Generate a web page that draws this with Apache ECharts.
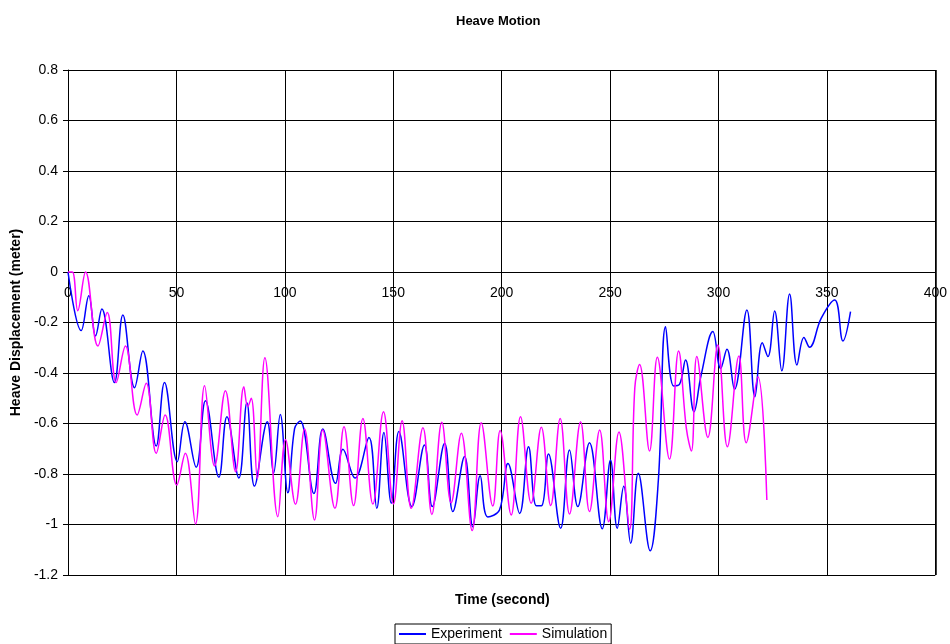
<!DOCTYPE html>
<html>
<head>
<meta charset="utf-8">
<script src="https://cdn.jsdelivr.net/npm/echarts@6/dist/echarts.min.js"></script>
<style>html,body{margin:0;padding:0;background:#fff}#c{width:950px;height:644px}</style>
</head>
<body>
<div id="c"></div>
<script>
var chartTitle = 'Heave Motion';
var xAxisName = 'Time (second)';
var yAxisName = 'Heave Displacement (meter)';
var seriesNames = ['Experiment', 'Simulation'];
var xTicks = [0, 50, 100, 150, 200, 250, 300, 350, 400];
var yTicks = [-1.2, -1, -0.8, -0.6, -0.4, -0.2, 0, 0.2, 0.4, 0.6, 0.8];

var experimentTime = [0, 6.1, 9.6, 12.7, 15.6, 21.4, 25.3, 30.7, 34.5, 40.7, 44.5, 50.4, 53.9, 59.1, 63.4, 69.6, 73.3, 78.8, 82.5, 86.0, 91.9, 94.8, 97.9, 101.4, 104.5, 107.1, 113.4, 117.5, 123.4, 126.8, 132.4, 138.8, 142.4, 145.7, 149.1, 152.6, 158.6, 164.4, 168.0, 173.7, 177.5, 182.9, 186.7, 190.1, 193.6, 199.0, 202.9, 208.3, 212.4, 216.0, 218.5, 221.6, 227.2, 231.3, 235.1, 240.5, 246.4, 250.2, 253.3, 256.3, 259.5, 263.0, 268.5, 272.3, 275.6, 279.3, 282.0, 284.8, 288.7, 292.0, 297.4, 301.0, 303.9, 307.4, 313.1, 316.8, 320.2, 322.8, 325.9, 329.2, 332.8, 336.2, 339.4, 342.0, 347.4, 353.6, 357.4, 360.9];
var experimentHeave = [0, -0.232, -0.094, -0.253, -0.147, -0.438, -0.170, -0.458, -0.313, -0.689, -0.438, -0.751, -0.593, -0.773, -0.510, -0.813, -0.573, -0.816, -0.518, -0.848, -0.593, -0.797, -0.564, -0.874, -0.62, -0.590, -0.877, -0.622, -0.837, -0.702, -0.816, -0.655, -0.936, -0.636, -0.916, -0.632, -0.929, -0.685, -0.929, -0.678, -0.949, -0.731, -1.009, -0.807, -0.970, -0.943, -0.758, -0.956, -0.692, -0.926, -0.925, -0.721, -1.015, -0.705, -0.929, -0.676, -1.017, -0.745, -1.015, -0.849, -1.074, -0.797, -1.104, -0.82, -0.217, -0.451, -0.445, -0.349, -0.553, -0.408, -0.236, -0.382, -0.306, -0.465, -0.150, -0.494, -0.280, -0.335, -0.154, -0.391, -0.087, -0.368, -0.259, -0.298, -0.183, -0.111, -0.273, -0.157];

var simulationTime = [0, 2.0, 4.5, 8.1, 13.8, 18.1, 22.2, 26.5, 31.9, 36.1, 40.7, 44.8, 50.2, 54.1, 58.8, 63.0, 67.6, 72.6, 77.3, 81.1, 82.9, 84.5, 87.3, 90.8, 96.8, 100.3, 104.9, 109.1, 113.7, 117.5, 123.1, 127.3, 131.7, 136.0, 140.6, 145.5, 150.1, 154.1, 158.3, 163.7, 167.8, 172.4, 176.7, 181.4, 186.4, 190.6, 195.9, 199.3, 204.4, 208.7, 213.6, 218.3, 222.6, 227.0, 231.3, 236.4, 240.5, 245.2, 249.4, 254.1, 259.0, 261.4, 263.6, 268.2, 271.8, 277.4, 281.6, 285.2, 287.5, 290.0, 295.1, 299.7, 304.1, 309.4, 312.8, 318.2, 322.3];
var simulationHeave = [0, 0, -0.153, 0, -0.293, -0.160, -0.438, -0.293, -0.566, -0.441, -0.718, -0.566, -0.844, -0.718, -0.998, -0.450, -0.768, -0.470, -0.791, -0.454, -0.533, -0.500, -0.817, -0.34, -0.969, -0.663, -0.920, -0.622, -0.982, -0.626, -0.936, -0.613, -0.925, -0.580, -0.919, -0.553, -0.919, -0.589, -0.936, -0.617, -0.960, -0.595, -0.914, -0.639, -1.024, -0.597, -0.927, -0.628, -0.962, -0.573, -0.916, -0.615, -0.925, -0.580, -0.958, -0.593, -0.949, -0.626, -0.989, -0.634, -1.019, -0.46, -0.366, -0.709, -0.338, -0.741, -0.313, -0.62, -0.709, -0.335, -0.655, -0.289, -0.692, -0.333, -0.676, -0.415, -0.903];

function pairs(t, v) { return t.map(function (x, i) { return [x, v[i]]; }); }

var font = 'Arial, "Liberation Sans", sans-serif';
var gridTop = 70, gridHeight = 505;
var yMin = yTicks[0], yMax = yTicks[yTicks.length - 1];
// shift the x axis from the bottom edge up to where y = 0
var zeroOffset = -gridHeight * (0 - yMin) / (yMax - yMin);

var chart = echarts.init(document.getElementById('c'), null, { renderer: 'canvas' });
chart.setOption({
  animation: false,
  backgroundColor: '#ffffff',
  title: {
    text: chartTitle, left: 451, top: 10,
    textStyle: { fontFamily: font, fontSize: 13, fontWeight: 'bold', color: '#000' }
  },
  grid: { left: 68, right: 14, top: gridTop, height: gridHeight, containLabel: false, show: false },
  legend: {
    data: seriesNames, left: 395, top: 624,
    itemWidth: 27, itemHeight: 2, itemGap: 8, icon: 'rect',
    padding: [3, 4, 3, 4],
    borderColor: '#000', borderWidth: 1,
    textStyle: { fontFamily: font, fontSize: 14, color: '#000' }
  },
  xAxis: {
    type: 'value', min: xTicks[0], max: xTicks[xTicks.length - 1], interval: 50,
    position: 'bottom', offset: zeroOffset,
    axisLine: { show: true, onZero: false, lineStyle: { color: '#000', width: 1 } },
    axisTick: { show: true, length: 4, lineStyle: { color: '#000' } },
    axisLabel: { margin: 14, fontFamily: font, fontSize: 14, color: '#000' },
    splitLine: { show: true, lineStyle: { color: '#000', width: 1 } }
  },
  yAxis: {
    type: 'value', min: yMin, max: yMax, interval: 0.2,
    name: yAxisName, nameLocation: 'middle', nameGap: 43, nameRotate: 90,
    nameTextStyle: { fontFamily: font, fontSize: 14, fontWeight: 'bold', color: '#000' },
    axisLine: { show: true, onZero: false, lineStyle: { color: '#000', width: 1 } },
    axisTick: { show: true, length: 5, lineStyle: { color: '#000' } },
    axisLabel: { margin: 10, fontFamily: font, fontSize: 14, color: '#000',
      formatter: function (v) { return String(+v.toFixed(1)); } },
    splitLine: { show: true, lineStyle: { color: '#000', width: 1 } }
  },
  graphic: [{
    type: 'text', left: 455, top: 593,
    style: { text: xAxisName, font: 'bold 14px ' + font, fill: '#000' }
  }, {
    type: 'rect', shape: { x: 936, y: 70, width: 0, height: 505 }, style: { stroke: '#000', lineWidth: 1 }
  }],
  series: [{
    name: seriesNames[0], type: 'line', data: pairs(experimentTime, experimentHeave),
    smooth: 0.4, showSymbol: false, symbol: 'none',
    lineStyle: { color: '#0000ff', width: 1.5 }, itemStyle: { color: '#0000ff' }
  }, {
    name: seriesNames[1], type: 'line', data: pairs(simulationTime, simulationHeave),
    smooth: 0.4, showSymbol: false, symbol: 'none',
    lineStyle: { color: '#ff00ff', width: 1.5 }, itemStyle: { color: '#ff00ff' }
  }]
});
</script>
</body>
</html>
